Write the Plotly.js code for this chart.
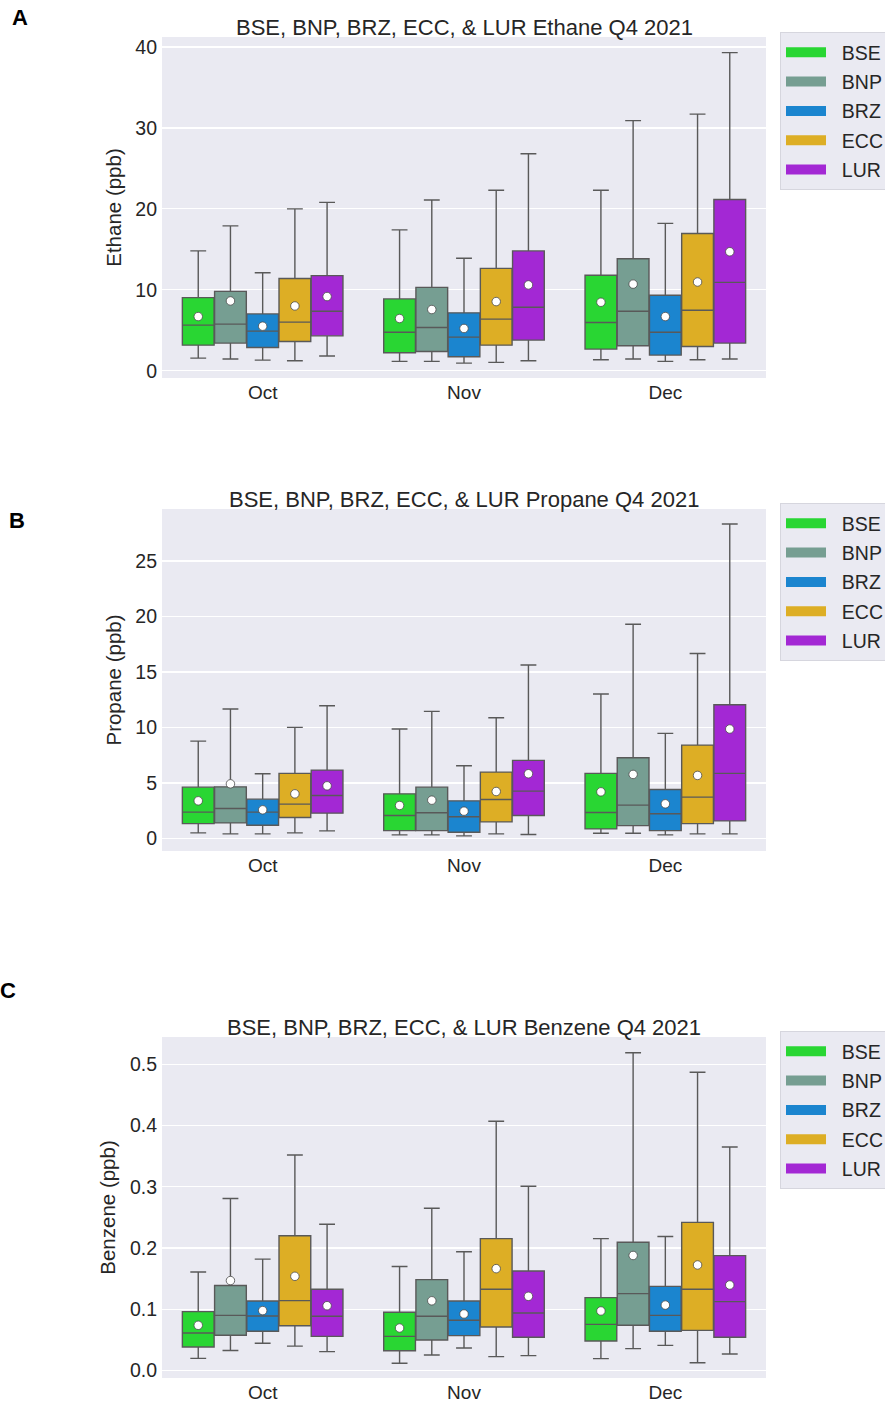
<!DOCTYPE html>
<html>
<head>
<meta charset="utf-8">
<script src="https://cdn.plot.ly/plotly-3.0.1.min.js"></script>
<style>
  html, body { margin: 0; padding: 0; background: #ffffff; }
  #chart { width: 885px; height: 1404px; }
</style>
</head>
<body>
<div id="chart"></div>
<script>
// ---------- categories ----------
const months = ['Oct', 'Nov', 'Dec'];
const stations = ['BSE', 'BNP', 'BRZ', 'ECC', 'LUR'];

// ---------- Ethane (ppb): rows = stations, cols = months ----------
const ethaneLow  = [[1.56, 1.15, 1.36], [1.44, 1.15, 1.44], [1.31, 0.94, 1.15], [1.23, 1.03, 1.36], [1.81, 1.23, 1.44]];
const ethaneQ1   = [[3.16, 2.22, 2.67], [3.41, 2.38, 3.08], [2.87, 1.72, 1.93], [3.61, 3.16, 3.00], [4.31, 3.78, 3.41]];
const ethaneMed  = [[5.63, 4.76, 5.95], [5.75, 5.34, 7.35], [4.89, 4.15, 4.76], [6.00, 6.37, 7.47], [7.35, 7.84, 10.92]];
const ethaneQ3   = [[9.03, 8.87, 11.8], [9.80, 10.3, 13.84], [7.02, 7.15, 9.32], [11.4, 12.65, 16.96], [11.75, 14.8, 21.15]];
const ethaneHigh = [[14.8, 17.4, 22.3], [17.9, 21.1, 30.9], [12.1, 13.9, 18.2], [20.0, 22.3, 31.7], [20.8, 26.8, 39.3]];
const ethaneMean = [[6.69, 6.45, 8.46], [8.62, 7.56, 10.7], [5.50, 5.22, 6.69], [8.00, 8.54, 10.96], [9.16, 10.6, 14.7]];

// ---------- Propane (ppb) ----------
const propaneLow  = [[0.51, 0.33, 0.48], [0.42, 0.33, 0.48], [0.42, 0.24, 0.33], [0.51, 0.42, 0.42], [0.69, 0.36, 0.42]];
const propaneQ1   = [[1.35, 0.72, 0.87], [1.41, 0.72, 1.17], [1.20, 0.57, 0.72], [1.90, 1.50, 1.35], [2.29, 2.08, 1.59]];
const propaneMed  = [[2.38, 2.08, 2.35], [2.71, 2.32, 3.01], [2.38, 1.96, 2.23], [3.10, 3.52, 3.73], [3.88, 4.27, 5.87]];
const propaneQ3   = [[4.63, 4.03, 5.87], [4.66, 4.63, 7.28], [3.55, 3.40, 4.42], [5.87, 5.99, 8.42], [6.17, 7.04, 12.06]];
const propaneHigh = [[8.78, 9.87, 13.03], [11.67, 11.46, 19.31], [5.84, 6.56, 9.48], [10.02, 10.89, 16.67], [11.97, 15.64, 28.34]];
const propaneMean = [[3.40, 2.98, 4.21], [4.93, 3.46, 5.78], [2.59, 2.47, 3.13], [4.03, 4.24, 5.69], [4.75, 5.84, 9.87]];

// ---------- Benzene (ppb) ----------
const benzeneLow  = [[0.020, 0.012, 0.0196], [0.033, 0.0256, 0.036], [0.0446, 0.037, 0.0413], [0.040, 0.0229, 0.013], [0.031, 0.0245, 0.0272]];
const benzeneQ1   = [[0.0386, 0.0326, 0.0484], [0.0577, 0.050, 0.074], [0.0642, 0.0571, 0.0642], [0.0734, 0.0713, 0.0658], [0.056, 0.0544, 0.0544]];
const benzeneMed  = [[0.0615, 0.056, 0.0756], [0.0903, 0.0887, 0.1257], [0.0892, 0.0822, 0.0903], [0.1143, 0.1328, 0.1328], [0.0887, 0.0941, 0.1126]];
const benzeneQ3   = [[0.0963, 0.0952, 0.1192], [0.139, 0.1485, 0.2095], [0.1137, 0.1137, 0.1376], [0.2203, 0.2155, 0.242], [0.1328, 0.1627, 0.1877]];
const benzeneHigh = [[0.161, 0.170, 0.2155], [0.281, 0.265, 0.519], [0.182, 0.194, 0.219], [0.352, 0.407, 0.487], [0.239, 0.301, 0.365]];
const benzeneMean = [[0.074, 0.0696, 0.0974], [0.147, 0.114, 0.188], [0.098, 0.0925, 0.107], [0.154, 0.1665, 0.1725], [0.106, 0.1213, 0.1398]];

// ---------- titles ----------
const panelTitles = [
  'BSE, BNP, BRZ, ECC, & LUR Ethane Q4 2021',
  'BSE, BNP, BRZ, ECC, & LUR Propane Q4 2021',
  'BSE, BNP, BRZ, ECC, & LUR Benzene Q4 2021'
];
const yTitles = ['Ethane (ppb)', 'Propane (ppb)', 'Benzene (ppb)'];
const panelLetters = ['A', 'B', 'C'];

// ---------- styles ----------
const colors = ['#29d633', '#769e92', '#1b85cf', '#ddae25', '#a328d4'];
const edge = '#595959';
const FONT = 'Liberation Sans, Arial, Helvetica, sans-serif';
const TXT = '#262626';
const groupWidth = 0.8;
const bw = groupWidth / stations.length;

const panels = [
  {low: ethaneLow, q1: ethaneQ1, med: ethaneMed, q3: ethaneQ3, high: ethaneHigh, mean: ethaneMean},
  {low: propaneLow, q1: propaneQ1, med: propaneMed, q3: propaneQ3, high: propaneHigh, mean: propaneMean},
  {low: benzeneLow, q1: benzeneQ1, med: benzeneMed, q3: benzeneQ3, high: benzeneHigh, mean: benzeneMean}
];

const traces = [];
panels.forEach((p, k) => {
  const n = k + 1;
  const xa = n === 1 ? 'x' : 'x' + n;
  const ya = n === 1 ? 'y' : 'y' + n;
  const lg = n === 1 ? 'legend' : 'legend' + n;
  stations.forEach((s, i) => {
    const xs = months.map((m, j) => j + (i - (stations.length - 1) / 2) * bw);
    traces.push({
      type: 'box', xaxis: xa, yaxis: ya, x: xs,
      lowerfence: p.low[i], q1: p.q1[i], median: p.med[i], q3: p.q3[i], upperfence: p.high[i],
      width: bw * 0.985, whiskerwidth: 0.5,
      fillcolor: colors[i], line: {color: edge, width: 1.4},
      boxpoints: false, showlegend: false, hoverinfo: 'skip', name: s
    });
    traces.push({
      type: 'scatter', mode: 'markers', xaxis: xa, yaxis: ya, x: xs, y: p.mean[i],
      marker: {symbol: 'circle', size: 8.5, color: '#ffffff', line: {color: '#4a4a4a', width: 0.8}},
      showlegend: false, hoverinfo: 'skip', name: s + ' mean'
    });
    traces.push({
      type: 'scatter', mode: 'lines', xaxis: xa, yaxis: ya, x: [null], y: [null],
      line: {color: colors[i], width: 14}, name: '\u00a0\u00a0' + s, legend: lg, legendgroup: s + n,
      showlegend: true, hoverinfo: 'skip'
    });
  });
});

// ---------- layout ----------
const W = 885, H = 1404;
const mL = 162, mR = 119, mT = 37, mB = 26;
const plotH = H - mT - mB;
const px2y = Y => (H - mB - Y) / plotH;       // page y -> paper y
const px2x = X => (X - mL) / (W - mL - mR);   // page x -> paper x

const domains = [[px2y(378), px2y(37)], [px2y(851), px2y(509)], [px2y(1378), px2y(1037)]];
const yRanges = [[-0.9, 41.23], [-1.12, 29.69], [-0.012, 0.5446]];
const yDticks = [10, 5, 0.1];
const yFormats = ['', '', '.1f'];
const titleY = [27, 499, 1027];
const letterPos = [[20, 17], [17, 520], [8, 990]];
const legendTop = [32, 503, 1031];

const layout = {
  width: W, height: H,
  margin: {l: mL, r: mR, t: mT, b: mB, pad: 0, autoexpand: false},
  paper_bgcolor: '#ffffff', plot_bgcolor: '#eaeaf2',
  font: {family: FONT, color: TXT, size: 19},
  boxmode: 'overlay',
  annotations: [],
  hovermode: false
};

for (let k = 0; k < 3; k++) {
  const n = k + 1;
  const xk = n === 1 ? 'xaxis' : 'xaxis' + n;
  const yk = n === 1 ? 'yaxis' : 'yaxis' + n;
  layout[xk] = {
    domain: [0, 1], anchor: n === 1 ? 'y' : 'y' + n,
    range: [-0.5, months.length - 0.5],
    tickvals: months.map((m, j) => j), ticktext: months,
    showgrid: false, zeroline: false, showline: false, ticks: '',
    tickfont: {family: FONT, size: 19, color: TXT}, ticklabelstandoff: 1,
    automargin: false, fixedrange: true
  };
  layout[yk] = {
    domain: domains[k], anchor: n === 1 ? 'x' : 'x' + n,
    range: yRanges[k], dtick: yDticks[k], tick0: 0, tickformat: yFormats[k],
    showgrid: true, gridcolor: '#ffffff', gridwidth: 1.3,
    zeroline: false, showline: false, ticks: '',
    tickfont: {family: FONT, size: 19.5, color: TXT}, ticklabelstandoff: 4,
    title: {text: yTitles[k], font: {family: FONT, size: 20.5, color: TXT}, standoff: 8},
    automargin: false, fixedrange: true
  };
  const lname = n === 1 ? 'legend' : 'legend' + n;
  layout[lname] = {
    x: px2x(780), xanchor: 'left', y: px2y(legendTop[k]), yanchor: 'top',
    bgcolor: '#eaeaf2', bordercolor: '#d6d6de', borderwidth: 1,
    font: {family: FONT, size: 19.5, color: TXT},
    itemwidth: 40, tracegroupgap: 1, itemclick: false, itemdoubleclick: false
  };
  layout.annotations.push({
    text: panelTitles[k], xref: 'paper', yref: 'paper', x: 0.5, y: px2y(titleY[k]),
    xanchor: 'center', yanchor: 'middle', showarrow: false,
    font: {family: FONT, size: 22, color: TXT}
  });
  layout.annotations.push({
    text: '<b>' + panelLetters[k] + '</b>', xref: 'paper', yref: 'paper',
    x: px2x(letterPos[k][0]), y: px2y(letterPos[k][1]),
    xanchor: 'center', yanchor: 'middle', showarrow: false,
    font: {family: FONT, size: 22, color: '#000000'}
  });
}

Plotly.newPlot('chart', traces, layout, {displayModeBar: false, staticPlot: true});
</script>
</body>
</html>
